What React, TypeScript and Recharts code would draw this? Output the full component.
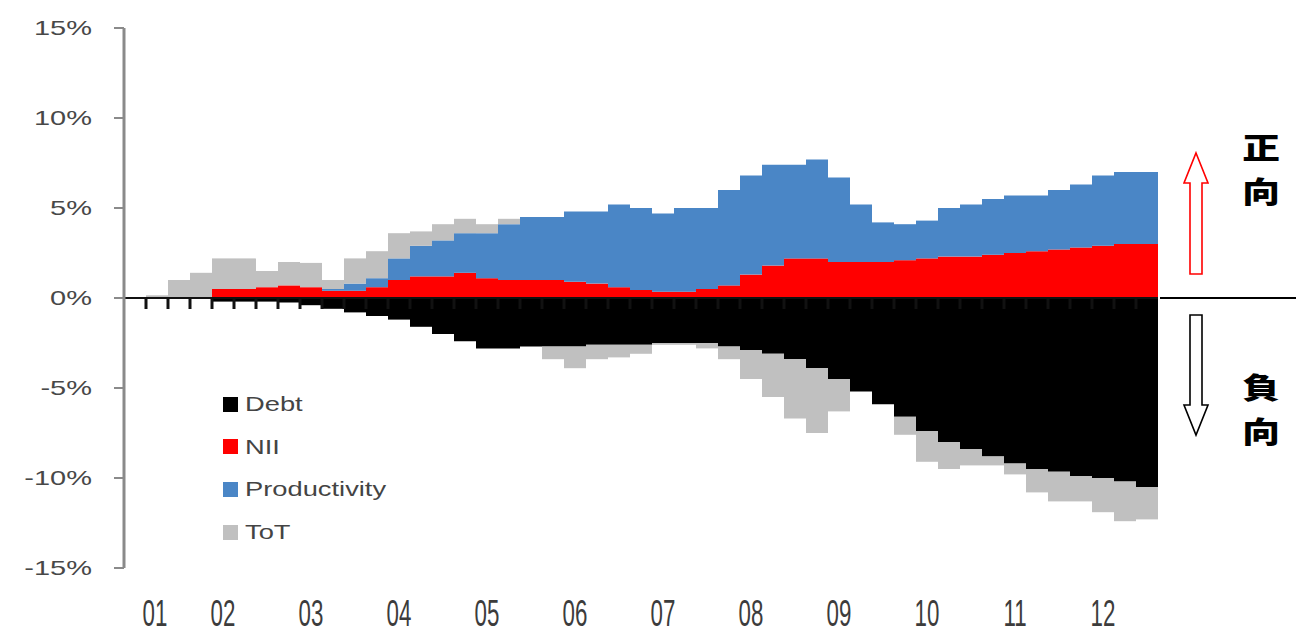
import React from 'react';
import { BarChart, Bar, XAxis, YAxis, ReferenceLine, Legend } from 'recharts';

// quarterly, 2001Q1 .. 2012Q3
const quarters = [
  '01Q1', '01Q2', '01Q3', '01Q4', '02Q1', '02Q2', '02Q3', '02Q4',
  '03Q1', '03Q2', '03Q3', '03Q4', '04Q1', '04Q2', '04Q3', '04Q4',
  '05Q1', '05Q2', '05Q3', '05Q4', '06Q1', '06Q2', '06Q3', '06Q4',
  '07Q1', '07Q2', '07Q3', '07Q4', '08Q1', '08Q2', '08Q3', '08Q4',
  '09Q1', '09Q2', '09Q3', '09Q4', '10Q1', '10Q2', '10Q3', '10Q4',
  '11Q1', '11Q2', '11Q3', '11Q4', '12Q1', '12Q2', '12Q3',
];

const debt = [
  0, 0, 0, 0, -0.2, -0.2, -0.2, -0.25,
  -0.4, -0.6, -0.8, -1.0, -1.2, -1.6, -2.0, -2.4,
  -2.8, -2.8, -2.7, -2.7, -2.7, -2.6, -2.6, -2.6,
  -2.5, -2.5, -2.5, -2.7, -2.9, -3.1, -3.4, -3.9,
  -4.5, -5.2, -5.9, -6.6, -7.4, -8.0, -8.4, -8.8,
  -9.2, -9.5, -9.65, -9.9, -10.0, -10.2, -10.5,
];

const nii = [
  0, 0, 0, 0, 0.5, 0.5, 0.6, 0.7,
  0.6, 0.4, 0.4, 0.6, 1.0, 1.2, 1.2, 1.4,
  1.1, 1.0, 1.0, 1.0, 0.9, 0.8, 0.6, 0.45,
  0.35, 0.35, 0.5, 0.7, 1.3, 1.8, 2.2, 2.2,
  2.0, 2.0, 2.0, 2.1, 2.2, 2.3, 2.3, 2.4,
  2.5, 2.6, 2.7, 2.8, 2.9, 3.0, 3.0,
];

const productivity = [
  0, 0, 0, 0, 0, 0, 0, 0,
  0, 0.1, 0.4, 0.5, 1.2, 1.7, 2.0, 2.2,
  2.5, 3.1, 3.5, 3.5, 3.9, 4.0, 4.6, 4.55,
  4.35, 4.65, 4.5, 5.3, 5.5, 5.6, 5.2, 5.5,
  4.7, 3.2, 2.2, 2.0, 2.1, 2.7, 2.9, 3.1,
  3.2, 3.1, 3.3, 3.5, 3.9, 4.0, 4.0,
];

const tot = [
  0, 0.15, 1.0, 1.4, 1.7, 1.7, 0.9, 1.3,
  1.35, 0.5, 1.4, 1.5, 1.4, 0.8, 0.9, 0.8,
  0.5, 0.3, 0, -0.7, -1.2, -0.8, -0.7, -0.5,
  -0.1, -0.1, -0.3, -0.7, -1.6, -2.4, -3.3, -3.6,
  -1.8, 0, 0, -1.0, -1.7, -1.5, -0.9, -0.5,
  -0.6, -1.3, -1.65, -1.4, -1.9, -2.2, -1.8,
];

const yTicks = [-15, -10, -5, 0, 5, 10, 15];

const colors: Record<string, string> = {
  Debt: '#000000',
  NII: '#ff0000',
  Productivity: '#4a86c6',
  ToT: '#c0c0c0',
};

const data = quarters.map((q, i) => ({
  q,
  debt: debt[i],
  nii: nii[i],
  prod: productivity[i],
  tot: tot[i],
}));

const FONT = '"Liberation Sans", Arial, sans-serif';

function YTick({ x, y, payload }: any) {
  return (
    <text
      transform={`translate(${x},${y}) scale(1.38,1)`}
      textAnchor="end"
      dominantBaseline="central"
      fontSize={21}
      fill="#484848"
      fontFamily={FONT}
    >
      {payload.value}%
    </text>
  );
}

function XTick({ x, y, payload }: any) {
  const label = String(payload.value).slice(0, 2);
  const dx = payload.value === quarters[0] ? 20 : 0;
  return (
    <text
      transform={`translate(${x + dx},${y + 58}) scale(0.62,1)`}
      textAnchor="middle"
      fontSize={36}
      fill="#3c3c3c"
      fontFamily={FONT}
    >
      {label}
    </text>
  );
}

// zero line with small category tick marks hanging below it
function ZeroLine(props: any) {
  const { x1, y1, x2 } = props;
  const n = quarters.length;
  const step = (x2 - x1) / n;
  const marks = [];
  for (let k = 1; k < n; k++) {
    const xx = x1 + k * step;
    marks.push(<line key={k} x1={xx} x2={xx} y1={y1} y2={y1 + 11} stroke="#111" strokeWidth={3} />);
  }
  return (
    <g>
      <line x1={x1} y1={y1} x2={x2} y2={y1} stroke="#111" strokeWidth={2} />
      {marks}
    </g>
  );
}

function LegendBox({ payload }: any) {
  return (
    <div style={{ fontFamily: FONT }}>
      {(payload || []).map((p: any) => (
        <div key={p.value} style={{ height: 42.6, display: 'flex', alignItems: 'center' }}>
          <span
            style={{
              width: 15,
              height: 15,
              background: colors[p.value],
              display: 'inline-block',
              marginRight: 7,
            }}
          />
          <span
            style={{
              fontSize: 21,
              color: '#444',
              display: 'inline-block',
              transform: 'scaleX(1.3)',
              transformOrigin: 'left center',
              whiteSpace: 'nowrap',
            }}
          >
            {p.value}
          </span>
        </div>
      ))}
    </div>
  );
}

function Notes() {
  const cjk = '"Noto Sans CJK TC", "Noto Sans CJK SC", sans-serif';
  const ch = (t: string, y: number) => (
    <text
      transform={`translate(1261,${y}) scale(1.3,1)`}
      textAnchor="middle"
      dominantBaseline="central"
      fontSize={29}
      fontWeight={900}
      fontFamily={cjk}
      fill="#000"
    >
      {t}
    </text>
  );
  return (
    <svg
      width={1296}
      height={633}
      style={{ position: 'absolute', left: 0, top: 0, pointerEvents: 'none' }}
    >
      <line x1={1160} y1={298} x2={1296} y2={298} stroke="#000" strokeWidth={2} />
      <polygon
        points="1196,153 1208,183 1202,183 1202,274 1190,274 1190,183 1184,183"
        fill="#fff"
        stroke="#ff0000"
        strokeWidth={1.6}
      />
      <polygon
        points="1190,315 1202,315 1202,405 1208,405 1196,435 1184,405 1190,405"
        fill="#fff"
        stroke="#000"
        strokeWidth={1.6}
      />
      {ch('正', 146)}
      {ch('向', 190)}
      {ch('負', 386)}
      {ch('向', 430)}
    </svg>
  );
}

export default function App() {
  return (
    <div style={{ position: 'absolute', left: 0, top: 0, width: 1296, height: 633, background: '#fff' }}>
      <BarChart
        width={1296}
        height={633}
        data={data}
        stackOffset="sign"
        barCategoryGap={0}
        barGap={0}
        margin={{ top: 28, right: 138, bottom: 5, left: 0 }}
      >
        <XAxis
          dataKey="q"
          interval={3}
          axisLine={false}
          tickLine={false}
          tickSize={0}
          tickMargin={0}
          height={60}
          tick={<XTick />}
        />
        <YAxis
          width={124}
          domain={[-15, 15]}
          ticks={yTicks}
          allowDataOverflow
          axisLine={{ stroke: '#8a8a8a', strokeWidth: 3 }}
          tickLine={{ stroke: '#8a8a8a', strokeWidth: 2 }}
          tickSize={10}
          tickMargin={22}
          tick={<YTick />}
        />
        <Legend
          layout="vertical"
          align="center"
          verticalAlign="middle"
          content={<LegendBox />}
          wrapperStyle={{ left: 223, top: 383, width: 'auto', height: 'auto' }}
        />
        <Bar dataKey="debt" name="Debt" stackId="s" fill={colors.Debt} isAnimationActive={false} />
        <Bar dataKey="nii" name="NII" stackId="s" fill={colors.NII} isAnimationActive={false} />
        <Bar dataKey="prod" name="Productivity" stackId="s" fill={colors.Productivity} isAnimationActive={false} />
        <Bar dataKey="tot" name="ToT" stackId="s" fill={colors.ToT} isAnimationActive={false} />
        <ReferenceLine y={0} shape={ZeroLine} />
      </BarChart>
      <Notes />
    </div>
  );
}
